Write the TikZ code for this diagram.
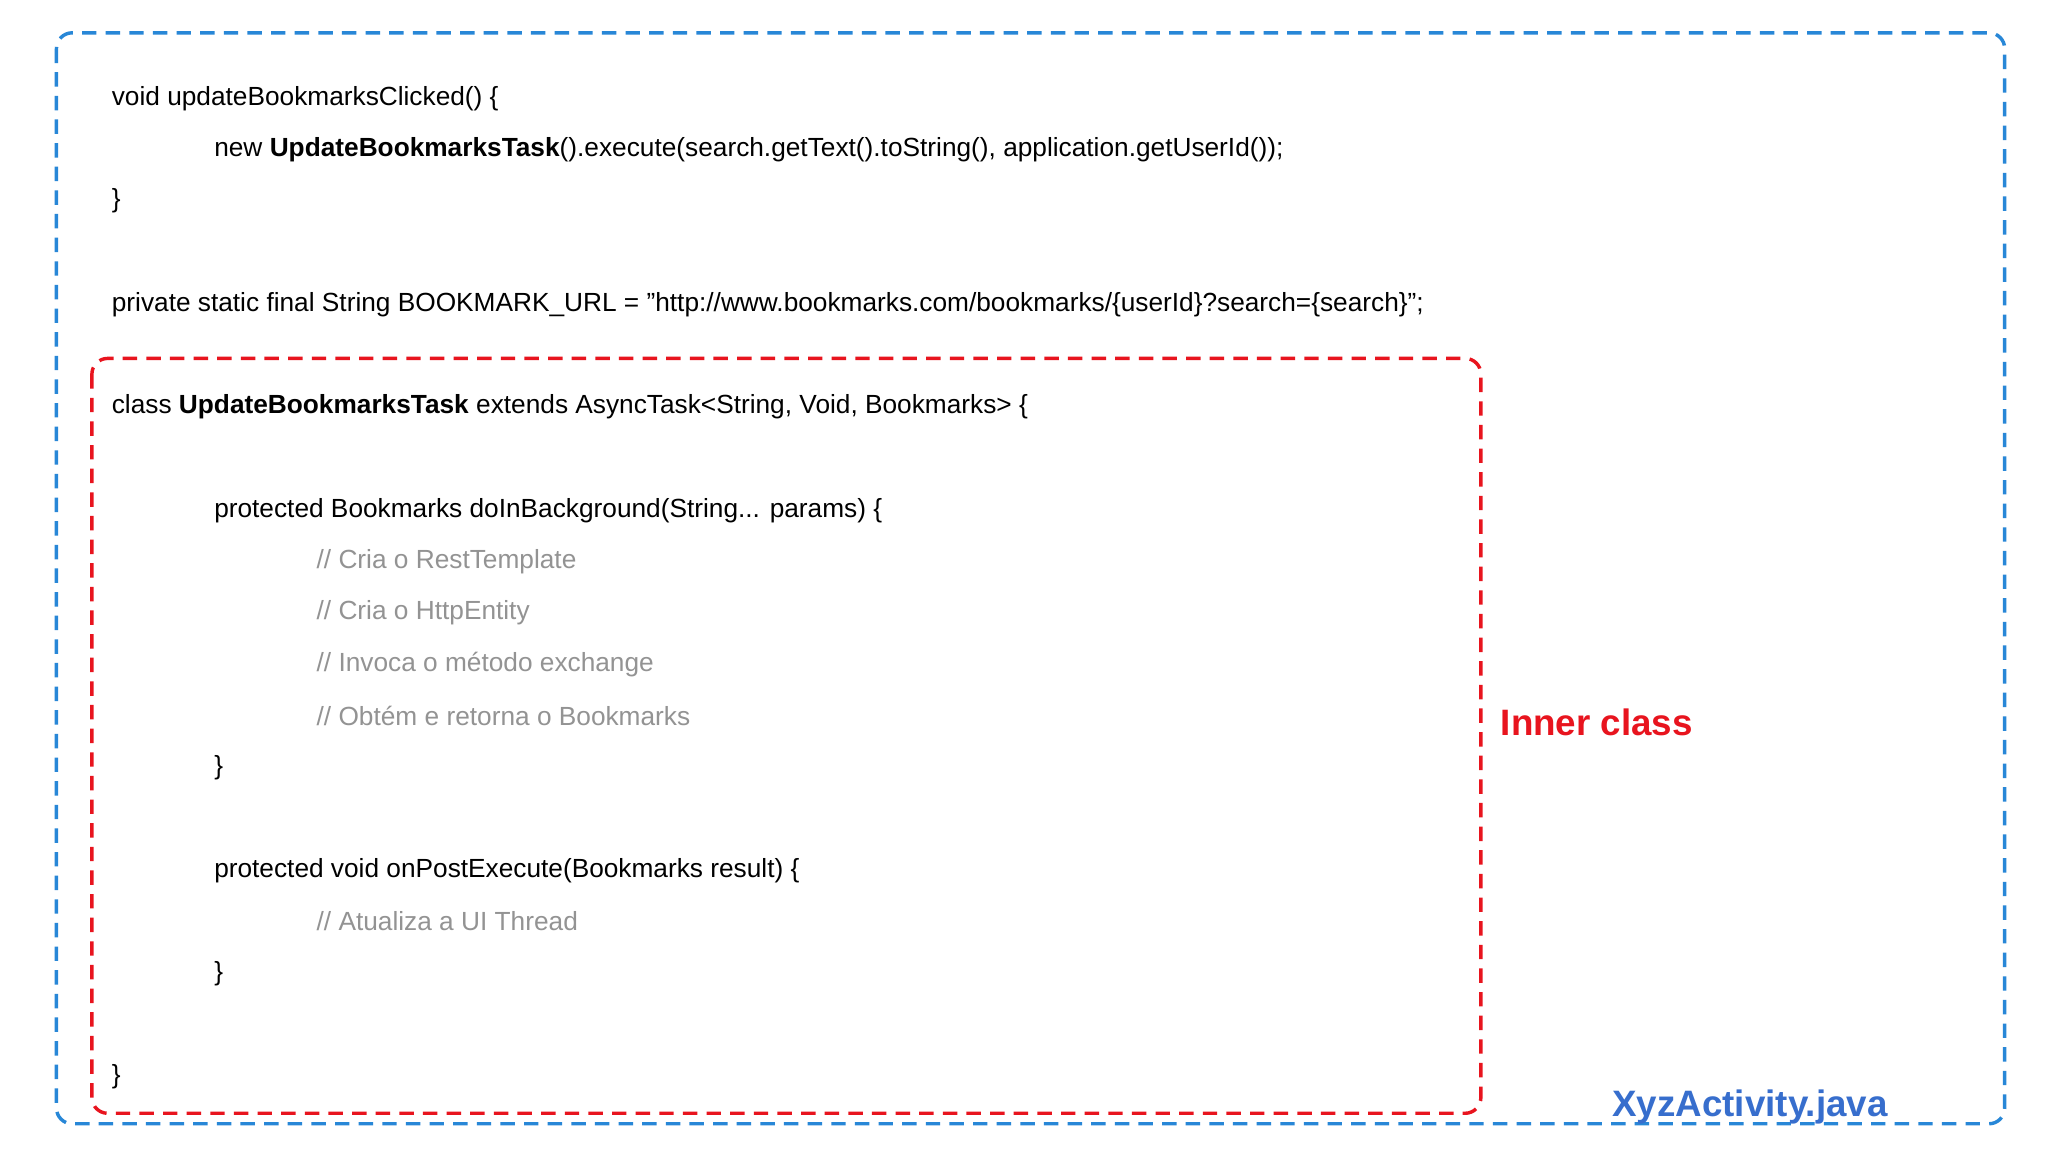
\documentclass[tikz,border=0pt]{standalone}
\usepackage{fontspec}
\setmainfont{Liberation Sans}
\begin{document}
\begin{tikzpicture}[x=1pt,y=-1pt,
  code/.style={anchor=west,inner sep=0pt,font=\fontsize{20}{24}\selectfont},
  cmt/.style={code,text=gray!85},
  box/.style={dashed,line width=2.6pt,rounded corners=12pt,dash pattern=on 11pt off 7pt}]
\definecolor{bl}{RGB}{40,135,215}
\definecolor{rd}{RGB}{232,20,30}
\definecolor{tb}{RGB}{55,110,205}
\fill[white] (0,0) rectangle (1560,877.5);
\draw[box,bl] (43,25) rectangle (1527,856);
\draw[box,rd] (70,273) rectangle (1128,848);
\node[code] (l1) at (85,75) {void updateBookmarksClicked() \{};
\node[code] (l2) at (163,114) {new \textbf{UpdateBookmarksTask}().execute(search.getText().toString(), application.getUserId());};
\node[code] (l3) at (85,153) {\}};
\node[code] (l4) at (85,232) {private static final String BOOKMARK\_URL = "http://www.bookmarks.com/bookmarks/\{userId\}?search=\{search\}";};
\node[code] (l5) at (85,310) {class \textbf{UpdateBookmarksTask} extends AsyncTask<String, Void, Bookmarks> \{};
\node[code] (l6) at (163,389) {protected Bookmarks doInBackground(String... params) \{};
\node[cmt] (c1) at (241,428) {// Cria o RestTemplate};
\node[cmt] (c2) at (241,467) {// Cria o HttpEntity};
\node[cmt] (c3) at (241,506) {// Invoca o método exchange};
\node[cmt] (c4) at (241,545) {// Obtém e retorna o Bookmarks};
\node[code] (l7) at (163,585) {\}};
\node[code] (l8) at (163,663) {protected void onPostExecute(Bookmarks result) \{};
\node[cmt] (c5) at (241,702) {// Atualiza a UI Thread};
\node[code] (l9) at (163,742) {\}};
\node[code] (l10) at (85,820) {\}};
\node[anchor=west,inner sep=0pt,text=rd,font=\fontsize{28}{32}\selectfont\bfseries] (ic) at (1143,550) {Inner class};
\node[anchor=west,inner sep=0pt,text=tb,font=\fontsize{28}{32}\selectfont\bfseries] (xa) at (1228,843) {XyzActivity.java};
\end{tikzpicture}
\end{document}
